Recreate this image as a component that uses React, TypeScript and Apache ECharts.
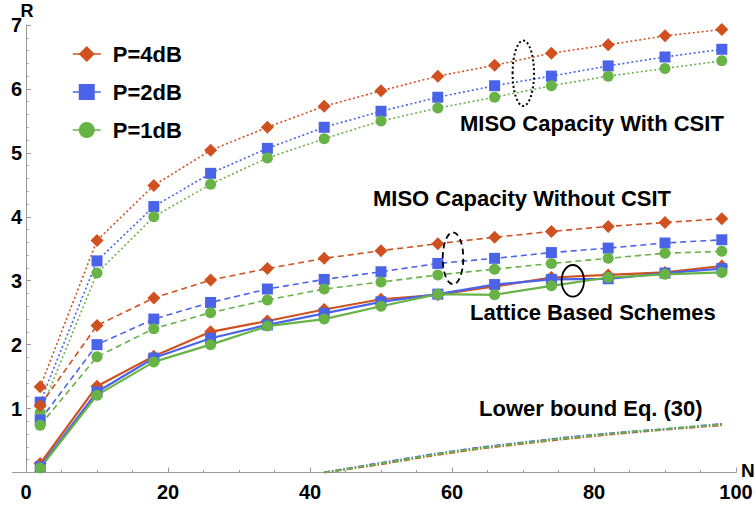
import React, { useEffect, useRef } from "react";
import * as echarts from "echarts";

const N = [2, 10, 18, 26, 34, 42, 50, 58, 66, 74, 82, 90, 98];
const xTicks = [0, 20, 40, 60, 80, 100];
const yTicks = [1, 2, 3, 4, 5, 6, 7];

const csit4 = [1.34, 3.63, 4.49, 5.04, 5.40, 5.73, 5.97, 6.20, 6.37, 6.56, 6.69, 6.83, 6.93];
const csit2 = [1.10, 3.31, 4.16, 4.68, 5.07, 5.40, 5.65, 5.87, 6.05, 6.20, 6.36, 6.50, 6.62];
const csit1 = [0.94, 3.12, 4.00, 4.51, 4.92, 5.22, 5.50, 5.70, 5.87, 6.05, 6.20, 6.32, 6.44];

const noCsit4 = [1.05, 2.30, 2.73, 3.01, 3.19, 3.35, 3.47, 3.58, 3.68, 3.77, 3.85, 3.91, 3.97];
const noCsit2 = [0.82, 2.00, 2.40, 2.66, 2.87, 3.02, 3.14, 3.27, 3.35, 3.44, 3.51, 3.59, 3.64];
const noCsit1 = [0.74, 1.81, 2.25, 2.50, 2.70, 2.87, 2.98, 3.09, 3.18, 3.27, 3.35, 3.43, 3.46];

const lattice4 = [0.14, 1.35, 1.82, 2.20, 2.37, 2.55, 2.71, 2.78, 2.91, 3.05, 3.09, 3.13, 3.23];
const lattice2 = [0.09, 1.26, 1.79, 2.10, 2.31, 2.49, 2.67, 2.79, 2.94, 3.02, 3.03, 3.12, 3.19];
const lattice1 = [0.07, 1.21, 1.73, 2.00, 2.29, 2.40, 2.60, 2.79, 2.78, 2.92, 3.05, 3.10, 3.13];

const lbN = [42, 50, 60, 70, 80, 90, 98];
const lb4 = [0, 0.13, 0.31, 0.45, 0.57, 0.67, 0.74];
const lb2 = [0, 0.15, 0.33, 0.47, 0.59, 0.68, 0.76];
const lb1 = [0, 0.14, 0.32, 0.46, 0.58, 0.68, 0.75];

const names = ["P=4dB", "P=2dB", "P=1dB"];
const colors = ["#D0501F", "#4B63E8", "#67B346"];
const symbols = ["diamond", "rect", "circle"];
const symbolSizes = [13, 11, 11];

const FONT = "Liberation Sans, Arial, sans-serif";

function pairs(xs: number[], ys: number[]) {
  return xs.map((x, i) => [x, ys[i]]);
}

export default function App() {
  const ref = useRef<HTMLDivElement>(null);
  useEffect(() => {
    if (!ref.current) return;
    const chart = echarts.init(ref.current, null, { renderer: "svg" });
    const groups = [
      { data: [csit4, csit2, csit1], dash: [2, 2.5], width: 1.6, suffix: " CSIT" },
      { data: [noCsit4, noCsit2, noCsit1], dash: [6, 4], width: 1.6, suffix: " noCSIT" },
      { data: [lattice4, lattice2, lattice1], dash: null, width: 2.2, suffix: "" },
    ];
    const series: any[] = [];
    groups.forEach((g) => {
      g.data.forEach((vals, i) => {
        series.push({
          type: "line",
          name: names[i] + g.suffix,
          data: pairs(N, vals),
          symbol: symbols[i],
          symbolSize: symbolSizes[i],
          showSymbol: true,
          itemStyle: { color: colors[i] },
          lineStyle: {
            color: colors[i],
            width: g.width,
            type: g.dash ? g.dash : "solid",
          },
          z: 2,
        });
      });
    });
    [lb4, lb2, lb1].forEach((vals, i) => {
      series.push({
        type: "line",
        name: names[i] + " LB",
        data: pairs(lbN, vals),
        symbol: "none",
        smooth: true,
        lineStyle: { color: colors[i], width: 2, type: [6, 2, 1.5, 2] },
        z: 2,
      });
    });

    chart.setOption({
      animation: false,
      backgroundColor: "#ffffff",
      grid: { left: 26, right: 20, top: 25, bottom: 32.5, containLabel: false, outerBoundsMode: "none" },
      legend: {
        data: names,
        orient: "vertical",
        left: 67,
        top: 38,
        itemWidth: 28,
        itemHeight: 20,
        itemGap: 16,
        lineStyle: { width: 1.5 },
        textStyle: {
          fontFamily: FONT,
          fontWeight: "bold",
          fontSize: 22,
          color: "#000",
          padding: [0, 0, 0, 7],
        },
        selectedMode: false,
      },
      xAxis: {
        type: "value",
        min: 0,
        max: 100,
        interval: 20,
        axisLine: { show: true, lineStyle: { color: "#999", width: 1 } },
        axisTick: { show: true, inside: true, length: 5, lineStyle: { color: "#999" } },
        minorTick: { show: true, splitNumber: 4, length: 2.5, lineStyle: { color: "#999" } },
        splitLine: { show: false },
        axisLabel: {
          fontFamily: FONT,
          fontWeight: "bold",
          fontSize: 20,
          color: "#000",
          margin: 9,
          formatter: (v: number) => (xTicks.includes(v) ? String(v) : ""),
        },
      },
      yAxis: {
        type: "value",
        min: 0,
        max: 7,
        interval: 1,
        axisLine: { show: true, lineStyle: { color: "#999", width: 1 } },
        axisTick: { show: true, inside: true, length: 5, lineStyle: { color: "#999" } },
        minorTick: { show: true, splitNumber: 5, length: 2.5, lineStyle: { color: "#999" } },
        splitLine: { show: false },
        axisLabel: {
          fontFamily: FONT,
          fontWeight: "bold",
          fontSize: 20,
          color: "#000",
          margin: 4,
          formatter: (v: number) => (yTicks.includes(v) ? String(v) : ""),
        },
      },
      graphic: [
        { type: "line", shape: { x1: 12, y1: 472.5, x2: 26, y2: 472.5 }, style: { stroke: "#999", lineWidth: 1 } },
        {
          type: "text",
          x: 27,
          y: 11,
          style: { text: "R", font: "bold 18px " + FONT, fill: "#000", textAlign: "center", textVerticalAlign: "middle" },
          z: 10,
        },
        {
          type: "text",
          x: 741,
          y: 470,
          style: { text: "N", font: "bold 19px " + FONT, fill: "#000", textAlign: "left", textVerticalAlign: "middle" },
          z: 10,
        },
        {
          type: "ellipse",
          shape: { cx: 523.3, cy: 73.3, rx: 10.7, ry: 32.7 },
          style: { stroke: "#000", fill: "none", lineWidth: 2, lineDash: [2, 2.5] },
          z: 10,
        },
        {
          type: "ellipse",
          shape: { cx: 453, cy: 258.3, rx: 10.3, ry: 26 },
          style: { stroke: "#000", fill: "none", lineWidth: 1.8, lineDash: [6, 4] },
          z: 10,
        },
        {
          type: "ellipse",
          shape: { cx: 572.8, cy: 280.8, rx: 11.2, ry: 15.8 },
          style: { stroke: "#000", fill: "none", lineWidth: 1.8 },
          z: 10,
        },
        {
          type: "text",
          x: 460,
          y: 123,
          style: { text: "MISO Capacity With CSIT", font: "bold 22px " + FONT, fill: "#000", textVerticalAlign: "middle" },
          z: 10,
        },
        {
          type: "text",
          x: 373,
          y: 198,
          style: { text: "MISO Capacity Without CSIT", font: "bold 22px " + FONT, fill: "#000", textVerticalAlign: "middle" },
          z: 10,
        },
        {
          type: "text",
          x: 470,
          y: 312.5,
          style: { text: "Lattice Based Schemes", font: "bold 22px " + FONT, fill: "#000", textVerticalAlign: "middle" },
          z: 10,
        },
        {
          type: "text",
          x: 479,
          y: 408,
          style: { text: "Lower bound Eq. (30)", font: "bold 22px " + FONT, fill: "#000", textVerticalAlign: "middle" },
          z: 10,
        },
      ],
      series,
    });
    return () => chart.dispose();
  }, []);
  return <div ref={ref} style={{ width: 756, height: 505, position: "absolute", left: 0, top: 0 }} />;
}
